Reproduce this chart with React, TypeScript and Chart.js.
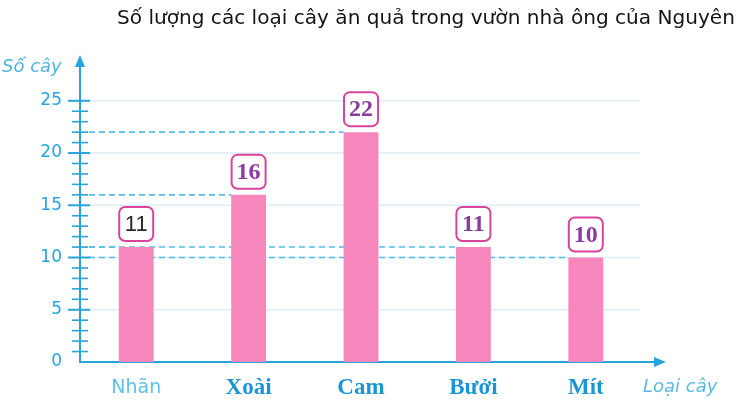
import { useEffect, useRef } from 'react';
import { Chart, registerables } from 'chart.js';

Chart.register(...registerables);

const categories = ['Nhãn', 'Xoài', 'Cam', 'Bưởi', 'Mít'];
const treeCounts = [11, 16, 22, 11, 10];
const yTickValues = [0, 5, 10, 15, 20, 25];
const yMinorTickValues = [1, 2, 3, 4, 6, 7, 8, 9, 11, 12, 13, 14, 16, 17, 18, 19, 21, 22, 23, 24];
const yAxisMax = 29;
const chartTitle = 'Số lượng các loại cây ăn quả trong vườn nhà ông của Nguyên';
const yAxisTitle = 'Số cây';
const xAxisTitle = 'Loại cây';

const AXIS_BLUE = '#27a4dc';

function line(ctx: CanvasRenderingContext2D, x1: number, y1: number, x2: number, y2: number) {
  ctx.beginPath();
  ctx.moveTo(x1, y1);
  ctx.lineTo(x2, y2);
  ctx.stroke();
}

const decorPlugin = {
  id: 'decor',
  beforeDatasetsDraw(chart: any) {
    const { ctx, chartArea } = chart;
    const y = chart.scales.y;
    const ax = chartArea.left;
    const ay = chartArea.bottom;
    ctx.save();
    // faint grid lines
    ctx.strokeStyle = '#dcedf6';
    ctx.lineWidth = 1.5;
    yTickValues.forEach((v) => {
      if (v === 0) return;
      const py = y.getPixelForValue(v);
      line(ctx, ax + 10, py, chartArea.right - 2, py);
    });
    // dashed guide lines
    const meta = chart.getDatasetMeta(0);
    ctx.setLineDash([6, 4]);
    ctx.strokeStyle = '#55bde6';
    ctx.lineWidth = 1.6;
    meta.data.forEach((bar: any, i: number) => {
      const py = y.getPixelForValue(treeCounts[i]);
      line(ctx, ax + 9, py, bar.x - bar.width / 2, py);
    });
    ctx.setLineDash([]);
    // axes
    ctx.strokeStyle = AXIS_BLUE;
    ctx.fillStyle = AXIS_BLUE;
    ctx.lineWidth = 2;
    line(ctx, ax, ay, ax, chartArea.top);
    line(ctx, ax - 1, ay, chartArea.right + 18, ay);
    // ticks
    yTickValues.forEach((v) => {
      if (v === 0) return;
      const py = y.getPixelForValue(v);
      line(ctx, ax - 12, py, ax + 10, py);
    });
    ctx.lineWidth = 1.6;
    yMinorTickValues.forEach((v) => {
      const py = y.getPixelForValue(v);
      line(ctx, ax - 8, py, ax + 8, py);
    });
    // arrowheads
    const tipY = chartArea.top - 4;
    ctx.beginPath();
    ctx.moveTo(ax, tipY);
    ctx.lineTo(ax - 5, tipY + 12);
    ctx.lineTo(ax + 5, tipY + 12);
    ctx.closePath();
    ctx.fill();
    const tipX = chartArea.right + 24;
    ctx.beginPath();
    ctx.moveTo(tipX, ay);
    ctx.lineTo(tipX - 12, ay - 5);
    ctx.lineTo(tipX - 12, ay + 5);
    ctx.closePath();
    ctx.fill();
    ctx.restore();
  },
  afterDatasetsDraw(chart: any) {
    const { ctx } = chart;
    const meta = chart.getDatasetMeta(0);
    ctx.save();
    meta.data.forEach((bar: any, i: number) => {
      const w = 34;
      const h = 34;
      const bx = bar.x - w / 2;
      const by = bar.y - 6 - h;
      ctx.beginPath();
      (ctx as any).roundRect(bx, by, w, h, 6);
      ctx.fillStyle = '#ffffff';
      ctx.fill();
      ctx.strokeStyle = '#d9449b';
      ctx.lineWidth = 2;
      ctx.stroke();
      ctx.textAlign = 'center';
      ctx.textBaseline = 'middle';
      if (i === 0) {
        ctx.font = '22px "Liberation Sans"';
        ctx.fillStyle = '#2a2a2a';
      } else {
        ctx.font = 'bold 24px "Liberation Serif"';
        ctx.fillStyle = '#8c3b9e';
      }
      ctx.fillText(String(treeCounts[i]), bar.x, by + h / 2 + 1);
    });
    ctx.restore();
  },
  afterDraw(chart: any) {
    const { ctx, chartArea } = chart;
    ctx.save();
    // title, fitted to its width in the reference
    let size = 16;
    ctx.font = `${size}px "DejaVu Sans"`;
    const measured = ctx.measureText(chartTitle).width;
    size = (size * 618) / measured;
    ctx.font = `${size}px "DejaVu Sans"`;
    ctx.fillStyle = '#141414';
    ctx.textAlign = 'left';
    ctx.textBaseline = 'middle';
    ctx.fillText(chartTitle, 117, 19);
    // axis titles
    ctx.font = 'italic 18px "DejaVu Sans"';
    ctx.fillStyle = '#4cb5e2';
    ctx.fillText(yAxisTitle, 2, 67);
    ctx.fillStyle = '#5ab9e3';
    ctx.fillText(xAxisTitle, chartArea.right + 1, 387);
    ctx.restore();
  },
};

export default function App() {
  const canvasRef = useRef<HTMLCanvasElement | null>(null);

  useEffect(() => {
    document.body.style.margin = '0';
    const canvas = canvasRef.current;
    if (!canvas) return;
    const chart = new Chart(canvas, {
      type: 'bar',
      data: {
        labels: categories,
        datasets: [
          {
            data: treeCounts,
            backgroundColor: '#f687bc',
            borderWidth: 0,
            barPercentage: 0.31,
            categoryPercentage: 1,
          },
        ],
      },
      options: {
        animation: false,
        responsive: true,
        maintainAspectRatio: false,
        layout: { padding: { top: 59, right: 99, bottom: 0, left: 0 } },
        plugins: {
          legend: { display: false },
          tooltip: { enabled: false },
          title: { display: false },
        },
        scales: {
          x: {
            afterFit: (s: any) => {
              s.height = 43;
            },
            grid: { display: false, drawTicks: false },
            border: { display: false },
            ticks: {
              autoSkip: false,
              maxRotation: 0,
              padding: 12,
              color: (c: any) => (c.index === 0 ? '#5cc0ea' : '#1b95d4'),
              font: (c: any) =>
                c.index === 0
                  ? { family: 'DejaVu Sans', size: 19, lineHeight: 1.5 }
                  : { family: 'Liberation Serif', size: 23, weight: 'bold' },
            },
          },
          y: {
            min: 0,
            max: yAxisMax,
            afterBuildTicks: (s: any) => {
              s.ticks = yTickValues.map((v) => ({ value: v }));
            },
            afterFit: (s: any) => {
              s.width = 80;
            },
            grid: { display: false, drawTicks: false },
            border: { display: false },
            ticks: {
              color: AXIS_BLUE,
              font: { family: 'DejaVu Sans', size: 17 },
              padding: 18,
            },
          },
        },
      },
      plugins: [decorPlugin],
    });
    return () => chart.destroy();
  }, []);

  return (
    <div style={{ position: 'fixed', left: 0, top: 0, width: 741, height: 405, background: '#ffffff' }}>
      <canvas ref={canvasRef} />
    </div>
  );
}
